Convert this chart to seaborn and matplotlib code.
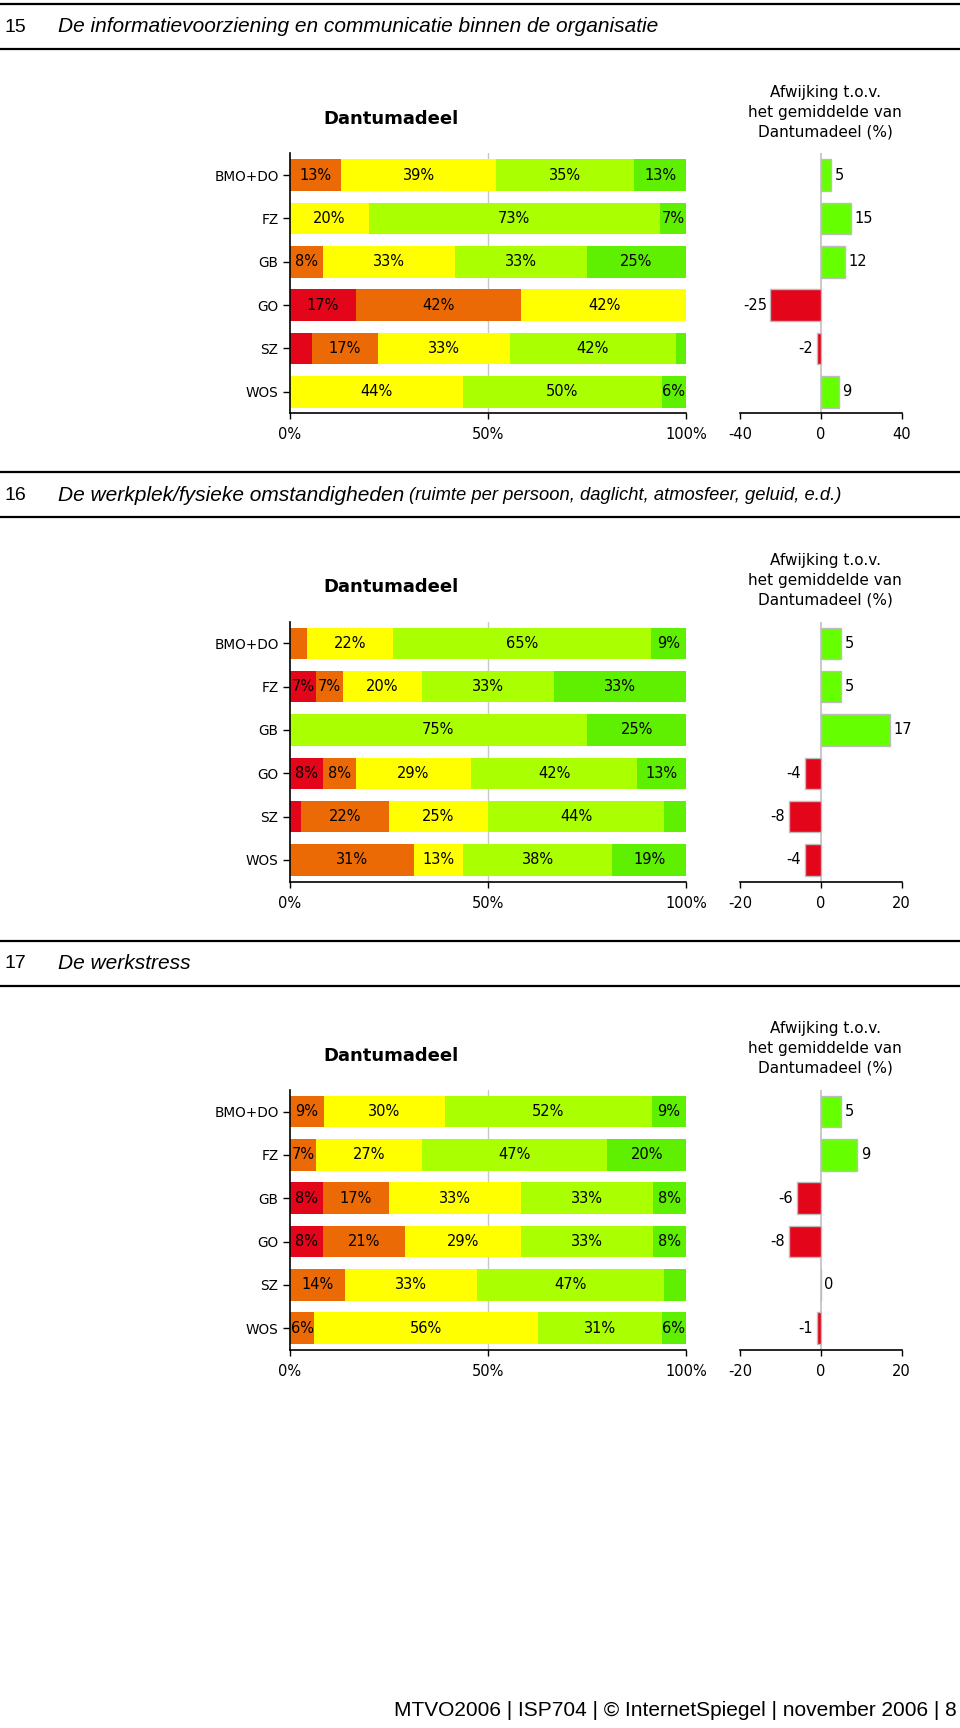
import matplotlib
matplotlib.use("Agg")
import matplotlib.pyplot as plt
import seaborn as sns
import pandas as pd
from matplotlib.lines import Line2D

# ---------------- data ----------------
groups = ["BMO+DO", "FZ", "GB", "GO", "SZ", "WOS"]
levels = ["zeer negatief", "negatief", "neutraal", "positief", "zeer positief"]

section_numbers = ["15", "16", "17"]
section_titles = [
    "De informatievoorziening en communicatie binnen de organisatie",
    "De werkplek/fysieke omstandigheden",
    "De werkstress",
]
section_subtitles = ["", "(ruimte per persoon, daglicht, atmosfeer, geluid, e.d.)", ""]

# section 15
s15_red    = [0.0, 0.0, 0.0, 16.7, 5.6, 0.0]
s15_orange = [13.0, 0.0, 8.3, 41.7, 16.7, 0.0]
s15_yellow = [39.1, 20.0, 33.3, 41.7, 33.3, 43.75]
s15_lgreen = [34.8, 73.3, 33.3, 0.0, 41.7, 50.0]
s15_green  = [13.0, 6.7, 25.0, 0.0, 2.8, 6.25]
s15_dev    = [5, 15, 12, -25, -2, 9]

# section 16
s16_red    = [0.0, 6.7, 0.0, 8.3, 2.8, 0.0]
s16_orange = [4.3, 6.7, 0.0, 8.3, 22.2, 31.25]
s16_yellow = [21.7, 20.0, 0.0, 29.2, 25.0, 12.5]
s16_lgreen = [65.2, 33.3, 75.0, 41.7, 44.4, 37.5]
s16_green  = [8.7, 33.3, 25.0, 12.5, 5.6, 18.75]
s16_dev    = [5, 5, 17, -4, -8, -4]

# section 17
s17_red    = [0.0, 0.0, 8.3, 8.3, 0.0, 0.0]
s17_orange = [8.7, 6.7, 16.7, 20.8, 13.9, 6.25]
s17_yellow = [30.4, 26.7, 33.3, 29.2, 33.3, 56.25]
s17_lgreen = [52.2, 46.7, 33.3, 33.3, 47.2, 31.25]
s17_green  = [8.7, 20.0, 8.3, 8.3, 5.6, 6.25]
s17_dev    = [5, 9, -6, -8, 0, -1]

dev_limits = [40, 20, 20]

area_title = "Dantumadeel"
dev_title = "Afwijking t.o.v.\nhet gemiddelde van\nDantumadeel (%)"
footer = "MTVO2006 | ISP704 | © InternetSpiegel | november 2006 | 8"

# ---------------- style ----------------
level_colors = ["#E3061B", "#EC6A05", "#FFFF00", "#AAFF00", "#5EF000"]
pos_color = "#66FF00"
neg_color = "#E3061B"

sns.set_theme(style="white")
plt.rcParams["font.family"] = ["DejaVu Sans"]
plt.rcParams["text.color"] = "black"
plt.rcParams["xtick.color"] = "black"
plt.rcParams["ytick.color"] = "black"

W, H = 960, 1728
fig = plt.figure(figsize=(W / 100, H / 100), dpi=100)
fig.patch.set_facecolor("white")
renderer = fig.canvas.get_renderer()


def fx(px):
    return px / W


def fy(py):
    return 1 - py / H


sections = [
    [s15_red, s15_orange, s15_yellow, s15_lgreen, s15_green],
    [s16_red, s16_orange, s16_yellow, s16_lgreen, s16_green],
    [s17_red, s17_orange, s17_yellow, s17_lgreen, s17_green],
]
devs = [s15_dev, s16_dev, s17_dev]

ytick_fs = 9.8
lab_fs = 10.5
bar_h = 0.73

for k in range(3):
    off = k * 468.3
    # header
    for ly in (4 + off, 49 + off):
        fig.add_artist(Line2D([0, 1], [fy(ly), fy(ly)], color="black", lw=1.6,
                              transform=fig.transFigure))
    fig.text(fx(5), fy(27 + off), section_numbers[k], fontsize=14,
             family="Liberation Sans", va="center", ha="left")
    t = fig.text(fx(58), fy(27 + off), section_titles[k], fontsize=15,
                 family="Liberation Sans", style="italic", va="center", ha="left")
    if section_subtitles[k]:
        ext = t.get_window_extent(renderer=renderer)
        fig.text((ext.x1 + 5) / W, fy(27 + off), section_subtitles[k], fontsize=13.2,
                 family="Liberation Sans", style="italic", va="center", ha="left")

    # stacked bar chart
    top = 153.35 + off
    bot = 413.35 + off
    ax = fig.add_axes([fx(289.7), fy(bot), fx(686.3) - fx(289.7), fy(top) - fy(bot)])
    ax.set_facecolor("white")
    ax.axvline(50, color="#c8c8c8", lw=1, zorder=0)
    ypos = list(range(len(groups)))
    left = [0.0] * len(groups)
    for li, vals in enumerate(sections[k]):
        ax.barh(ypos, vals, left=left, height=bar_h, color=level_colors[li],
                edgecolor="none", zorder=2)
        for yi, (v, l0) in enumerate(zip(vals, left)):
            if v >= 6.0:
                ax.text(l0 + v / 2, yi, f"{int(v + 0.5)}%", ha="center", va="center",
                        fontsize=lab_fs, color="black", zorder=3)
        left = [a + b for a, b in zip(left, vals)]
    ax.set_xlim(0, 100)
    ax.set_ylim(5.5, -0.5)
    ax.set_yticks(ypos)
    ax.set_yticklabels(groups, fontsize=ytick_fs)
    ax.set_xticks([0, 50, 100])
    ax.set_xticklabels(["0%", "50%", "100%"], fontsize=lab_fs)
    for s in ("top", "right"):
        ax.spines[s].set_visible(False)
    for s in ("left", "bottom"):
        ax.spines[s].set_color("black")
        ax.spines[s].set_linewidth(1.2)
    ax.tick_params(axis="y", length=5, width=1, color="black", pad=3, left=True)
    ax.tick_params(axis="x", length=4, width=1, color="black", pad=6, bottom=True)
    ax.grid(False)

    fig.text(fx(391), fy(119 + off), area_title, fontsize=13, fontweight="bold",
             ha="center", va="center")

    # deviation chart
    ax2 = fig.add_axes([fx(740), fy(bot), fx(901.7) - fx(740), fy(top) - fy(bot)])
    ax2.set_facecolor("white")
    dv = devs[k]
    df = pd.DataFrame({"groep": groups, "afwijking": dv})
    cols = [pos_color if v >= 0 else neg_color for v in dv]
    ax2.axvline(0, color="#c0c0c0", lw=1.2, zorder=0)
    sns.barplot(data=df, x="afwijking", y="groep", hue="groep", palette=cols,
                legend=False, orient="h", width=bar_h, edgecolor="#bdbdbd",
                linewidth=1, saturation=1, ax=ax2, zorder=2)
    for yi, v in enumerate(dv):
        if v >= 0:
            ax2.annotate(f"{v}", (v, yi), xytext=(2.5, 0), textcoords="offset points",
                         ha="left", va="center", fontsize=lab_fs)
        else:
            ax2.annotate(f"{v}", (v, yi), xytext=(-2.5, 0), textcoords="offset points",
                         ha="right", va="center", fontsize=lab_fs)
    lim = dev_limits[k]
    ax2.set_xlim(-lim, lim)
    ax2.set_ylim(5.5, -0.5)
    ax2.set_xticks([-lim, 0, lim])
    ax2.set_xticklabels([f"{-lim}", "0", f"{lim}"], fontsize=lab_fs)
    ax2.set_yticks([])
    ax2.set_xlabel("")
    ax2.set_ylabel("")
    for s in ("top", "right", "left"):
        ax2.spines[s].set_visible(False)
    ax2.spines["bottom"].set_color("black")
    ax2.spines["bottom"].set_linewidth(1.2)
    ax2.tick_params(axis="x", length=4, width=1, color="black", pad=6, bottom=True)
    ax2.grid(False)

    fig.text(fx(825), fy(112 + off), dev_title, fontsize=11, ha="center", va="center",
             linespacing=1.4)

fig.text(fx(957), fy(1711), footer, fontsize=15, family="Liberation Sans",
         ha="right", va="center")

fig.savefig("out.png", dpi=100, facecolor="white")
